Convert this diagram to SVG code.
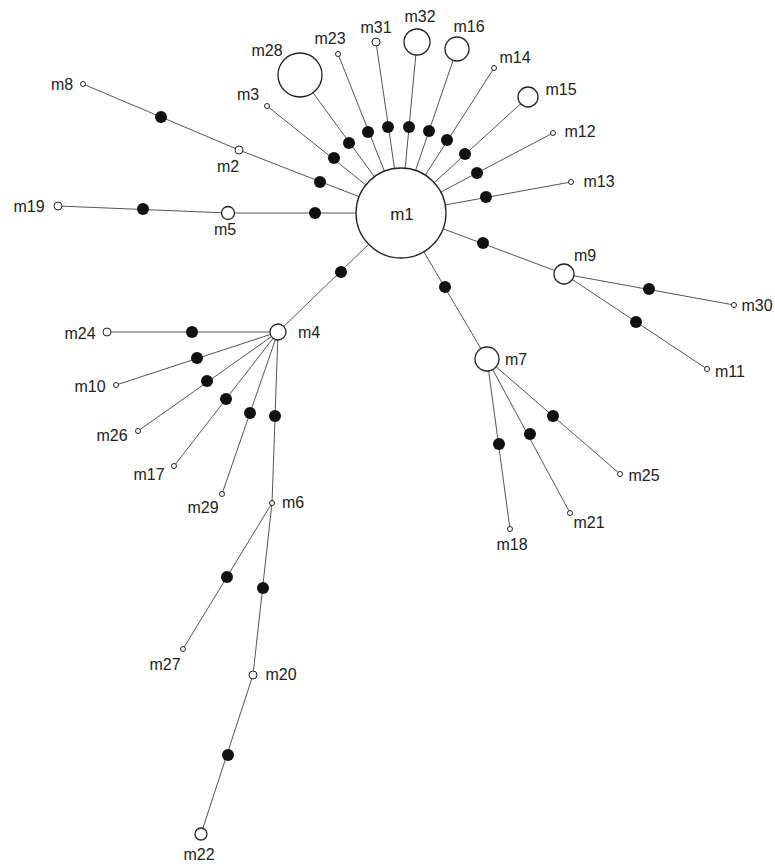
<svg xmlns="http://www.w3.org/2000/svg" width="775" height="866" viewBox="0 0 775 866">
<style>
.e{stroke:#555;stroke-width:1;fill:none}
.n{fill:#fff;stroke:#222;stroke-width:1.3}
.s{fill:#fff;stroke:#222;stroke-width:1}
.d{fill:#111;stroke:none}
text{font-family:"Liberation Sans",Arial,sans-serif;font-size:16px;fill:#222;text-anchor:middle}
</style>
<rect width="775" height="866" fill="#fff"/>
<g id="connectors">
<line class="e" x1="401" y1="213" x2="300" y2="75"/>
<line class="e" x1="401" y1="213" x2="338" y2="54"/>
<line class="e" x1="401" y1="213" x2="376" y2="42"/>
<line class="e" x1="401" y1="213" x2="417" y2="42"/>
<line class="e" x1="401" y1="213" x2="457" y2="49"/>
<line class="e" x1="401" y1="213" x2="494" y2="68"/>
<line class="e" x1="401" y1="213" x2="528" y2="97"/>
<line class="e" x1="401" y1="213" x2="553" y2="133"/>
<line class="e" x1="401" y1="213" x2="571" y2="182"/>
<line class="e" x1="401" y1="213" x2="267" y2="106"/>
<line class="e" x1="401" y1="213" x2="239" y2="150"/>
<line class="e" x1="239" y1="150" x2="83" y2="84"/>
<line class="e" x1="401" y1="213" x2="228" y2="213"/>
<line class="e" x1="228" y1="213" x2="58" y2="206"/>
<line class="e" x1="401" y1="213" x2="564" y2="274"/>
<line class="e" x1="564" y1="274" x2="734" y2="305"/>
<line class="e" x1="564" y1="274" x2="707" y2="369"/>
<line class="e" x1="401" y1="213" x2="487" y2="359"/>
<line class="e" x1="487" y1="359" x2="620" y2="474"/>
<line class="e" x1="487" y1="359" x2="570" y2="513"/>
<line class="e" x1="487" y1="359" x2="510" y2="529"/>
<line class="e" x1="401" y1="213" x2="278" y2="332"/>
<line class="e" x1="278" y1="332" x2="107" y2="332"/>
<line class="e" x1="278" y1="332" x2="116" y2="385"/>
<line class="e" x1="278" y1="332" x2="138" y2="431"/>
<line class="e" x1="278" y1="332" x2="174" y2="466"/>
<line class="e" x1="278" y1="332" x2="222" y2="494"/>
<line class="e" x1="278" y1="332" x2="272" y2="503"/>
<line class="e" x1="272" y1="503" x2="183" y2="649"/>
<line class="e" x1="272" y1="503" x2="253" y2="675"/>
<line class="e" x1="253" y1="675" x2="201" y2="834"/>
</g>
<g id="mutations">
<circle class="d" cx="349" cy="143" r="6"/>
<circle class="d" cx="368" cy="132" r="6"/>
<circle class="d" cx="388" cy="127" r="6"/>
<circle class="d" cx="409" cy="127" r="6"/>
<circle class="d" cx="429" cy="131" r="6"/>
<circle class="d" cx="447" cy="140" r="6"/>
<circle class="d" cx="465" cy="154" r="6"/>
<circle class="d" cx="477" cy="173" r="6"/>
<circle class="d" cx="486" cy="197" r="6"/>
<circle class="d" cx="334" cy="158" r="6"/>
<circle class="d" cx="320" cy="182" r="6"/>
<circle class="d" cx="161" cy="117" r="6"/>
<circle class="d" cx="315" cy="213" r="6"/>
<circle class="d" cx="143" cy="209" r="6"/>
<circle class="d" cx="483" cy="243" r="6"/>
<circle class="d" cx="649" cy="289" r="6"/>
<circle class="d" cx="636" cy="322" r="6"/>
<circle class="d" cx="445" cy="287" r="6"/>
<circle class="d" cx="553" cy="416" r="6"/>
<circle class="d" cx="530" cy="434" r="6"/>
<circle class="d" cx="499" cy="444" r="6"/>
<circle class="d" cx="341" cy="272" r="6"/>
<circle class="d" cx="192" cy="332" r="6"/>
<circle class="d" cx="197" cy="358" r="6"/>
<circle class="d" cx="207" cy="381" r="6"/>
<circle class="d" cx="226" cy="399" r="6"/>
<circle class="d" cx="250" cy="413" r="6"/>
<circle class="d" cx="275" cy="416" r="6"/>
<circle class="d" cx="227" cy="577" r="6"/>
<circle class="d" cx="263" cy="588" r="6"/>
<circle class="d" cx="228" cy="755" r="6"/>
</g>
<g id="m1"><circle class="n" cx="401" cy="213" r="45"/><text x="402" y="220" style="font-size:17px">m1</text></g>
<g id="m28"><circle class="n" cx="300" cy="75" r="22"/><text x="267" y="56">m28</text></g>
<g id="m23"><circle class="s" cx="338" cy="54" r="2.5"/><text x="330" y="44">m23</text></g>
<g id="m31"><circle class="s" cx="376" cy="42" r="4"/><text x="376" y="33">m31</text></g>
<g id="m32"><circle class="n" cx="417" cy="42" r="13"/><text x="420" y="22">m32</text></g>
<g id="m16"><circle class="n" cx="457" cy="49" r="12"/><text x="469" y="32">m16</text></g>
<g id="m14"><circle class="s" cx="494" cy="68" r="2.5"/><text x="515" y="63">m14</text></g>
<g id="m15"><circle class="n" cx="528" cy="97" r="10"/><text x="561" y="95">m15</text></g>
<g id="m12"><circle class="s" cx="553" cy="133" r="2.5"/><text x="580" y="137">m12</text></g>
<g id="m13"><circle class="s" cx="571" cy="182" r="2.5"/><text x="599" y="187">m13</text></g>
<g id="m3"><circle class="s" cx="267" cy="106" r="2.5"/><text x="248" y="100">m3</text></g>
<g id="m2"><circle class="s" cx="239" cy="150" r="4"/><text x="228" y="172">m2</text></g>
<g id="m8"><circle class="s" cx="83" cy="84" r="2.5"/><text x="62" y="90">m8</text></g>
<g id="m5"><circle class="n" cx="228" cy="213" r="6.5"/><text x="225" y="235">m5</text></g>
<g id="m19"><circle class="s" cx="58" cy="206" r="4"/><text x="29" y="212">m19</text></g>
<g id="m9"><circle class="n" cx="564" cy="274" r="10"/><text x="585" y="261">m9</text></g>
<g id="m30"><circle class="s" cx="734" cy="305" r="2.5"/><text x="757" y="311">m30</text></g>
<g id="m11"><circle class="s" cx="707" cy="369" r="2.5"/><text x="730" y="377">m11</text></g>
<g id="m7"><circle class="n" cx="487" cy="359" r="12"/><text x="516" y="365">m7</text></g>
<g id="m25"><circle class="s" cx="620" cy="474" r="2.5"/><text x="644" y="481">m25</text></g>
<g id="m21"><circle class="s" cx="570" cy="513" r="2.5"/><text x="589" y="528">m21</text></g>
<g id="m18"><circle class="s" cx="510" cy="529" r="2.5"/><text x="512" y="550">m18</text></g>
<g id="m4"><circle class="n" cx="278" cy="332" r="8"/><text x="309" y="338">m4</text></g>
<g id="m24"><circle class="s" cx="107" cy="332" r="4"/><text x="80" y="339">m24</text></g>
<g id="m10"><circle class="s" cx="116" cy="385" r="2.5"/><text x="90" y="392">m10</text></g>
<g id="m26"><circle class="s" cx="138" cy="431" r="2.5"/><text x="112" y="441">m26</text></g>
<g id="m17"><circle class="s" cx="174" cy="466" r="2.5"/><text x="149" y="480">m17</text></g>
<g id="m29"><circle class="s" cx="222" cy="494" r="2.5"/><text x="203" y="513">m29</text></g>
<g id="m6"><circle class="s" cx="272" cy="503" r="2.5"/><text x="293" y="508">m6</text></g>
<g id="m27"><circle class="s" cx="183" cy="649" r="2.5"/><text x="165" y="670">m27</text></g>
<g id="m20"><circle class="s" cx="253" cy="675" r="4"/><text x="281" y="680">m20</text></g>
<g id="m22"><circle class="n" cx="201" cy="834" r="6"/><text x="199" y="860">m22</text></g>
</svg>
